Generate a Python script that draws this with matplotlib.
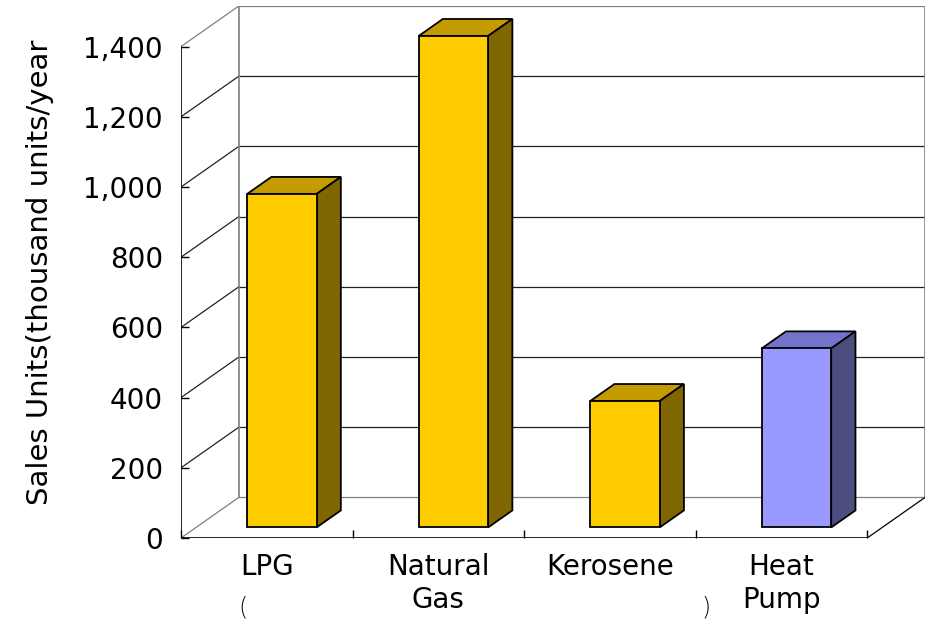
import matplotlib.pyplot as plt
from matplotlib.patches import Polygon

# Data
categories = ['LPG', 'Natural\nGas', 'Kerosene', 'Heat\nPump']
sales_units = [950, 1400, 360, 510]
front_colors = ['#FFCC00', '#FFCC00', '#FFCC00', '#9999FF']
top_colors = ['#C49C00', '#C49C00', '#C49C00', '#7373CC']
side_colors = ['#7F6600', '#7F6600', '#7F6600', '#4D4D80']
y_ticks = [0, 200, 400, 600, 800, 1000, 1200, 1400]
y_max = 1400

# 3D look: depth offset of the back wall (category units, value units)
DX = 0.337
DY = 115.6
BAR_F0 = 0.26   # bar front, fraction of the depth
BAR_F1 = 0.68   # bar back
BAR_W = 0.405

plt.rcParams['font.family'] = ['DejaVu Sans']


def main():
    fig = plt.figure(figsize=(9.3, 6.19), dpi=100)
    ax = fig.add_axes([181 / 930, 1 - 538 / 619, 744 / 930, 532 / 619])
    ax.set_xlim(-0.5, len(categories) - 0.5 + DX)
    ax.set_ylim(0, y_max + DY)
    for s in ax.spines.values():
        s.set_visible(False)

    x0 = -0.5
    x1 = len(categories) - 0.5
    grey = '#808080'

    # back wall + gridlines
    for v in y_ticks:
        c = grey if v in (0, y_max) else '#222222'
        ax.plot([x0 + DX, x1 + DX], [DY + v, DY + v], color=c, lw=0.9, zorder=1)
        ax.plot([x0, x0 + DX], [v, DY + v], color=c, lw=0.9, zorder=1)
    ax.plot([x0 + DX, x0 + DX], [DY, DY + y_max], color=grey, lw=1.2, zorder=1)
    ax.plot([x1 + DX, x1 + DX], [DY, DY + y_max], color=grey, lw=1.2, zorder=1)

    # floor
    ax.plot([x0, x1], [0, 0], color='black', lw=1.2, zorder=3)
    ax.plot([x1, x1 + DX], [0, DY], color='black', lw=0.9, zorder=1)
    ax.plot([x0, x0], [0, y_max], color='black', lw=1.2, zorder=3)

    # bars
    ddx = (BAR_F1 - BAR_F0) * DX
    ddy = (BAR_F1 - BAR_F0) * DY
    for i, v in enumerate(sales_units):
        xc = i + BAR_F0 * DX
        yb = BAR_F0 * DY
        xl, xr = xc - BAR_W / 2, xc + BAR_W / 2
        yt = yb + v
        top = Polygon([(xl, yt), (xr, yt), (xr + ddx, yt + ddy), (xl + ddx, yt + ddy)],
                      closed=True, facecolor=top_colors[i], edgecolor='black', lw=1.3, zorder=4)
        side = Polygon([(xr, yb), (xr, yt), (xr + ddx, yt + ddy), (xr + ddx, yb + ddy)],
                       closed=True, facecolor=side_colors[i], edgecolor='black', lw=1.3, zorder=4)
        ax.add_patch(top)
        ax.add_patch(side)
        ax.bar(xc, v, width=BAR_W, bottom=yb, color=front_colors[i],
               edgecolor='black', linewidth=1.3, zorder=5)

    # ticks
    ax.set_yticks(y_ticks)
    ax.set_yticklabels([f'{t:,}' for t in y_ticks])
    ax.tick_params(axis='y', direction='in', length=6, width=1, pad=13, labelsize=20)
    ax.set_xticks(range(len(categories)))
    ax.set_xticklabels(categories, linespacing=1.2)
    ax.set_xticks([x0 + k for k in range(len(categories) + 1)], minor=True)
    ax.tick_params(axis='x', which='major', length=0, pad=11, labelsize=20)
    ax.tick_params(axis='x', which='minor', direction='in', length=6, width=1)

    fig.text(40 / 930, 1 - 272 / 619, 'Sales Units(thousand units/year',
             rotation=90, ha='center', va='center', fontsize=21)

    # stray arc fragments at the bottom edge
    fig.text(243 / 930, 1 - 608 / 619, '(', ha='center', va='center', fontsize=17, fontweight='light')
    fig.text(706 / 930, 1 - 608 / 619, ')', ha='center', va='center', fontsize=17, fontweight='light')

    fig.savefig('out.png', dpi=100)


if __name__ == "__main__":
    main()
